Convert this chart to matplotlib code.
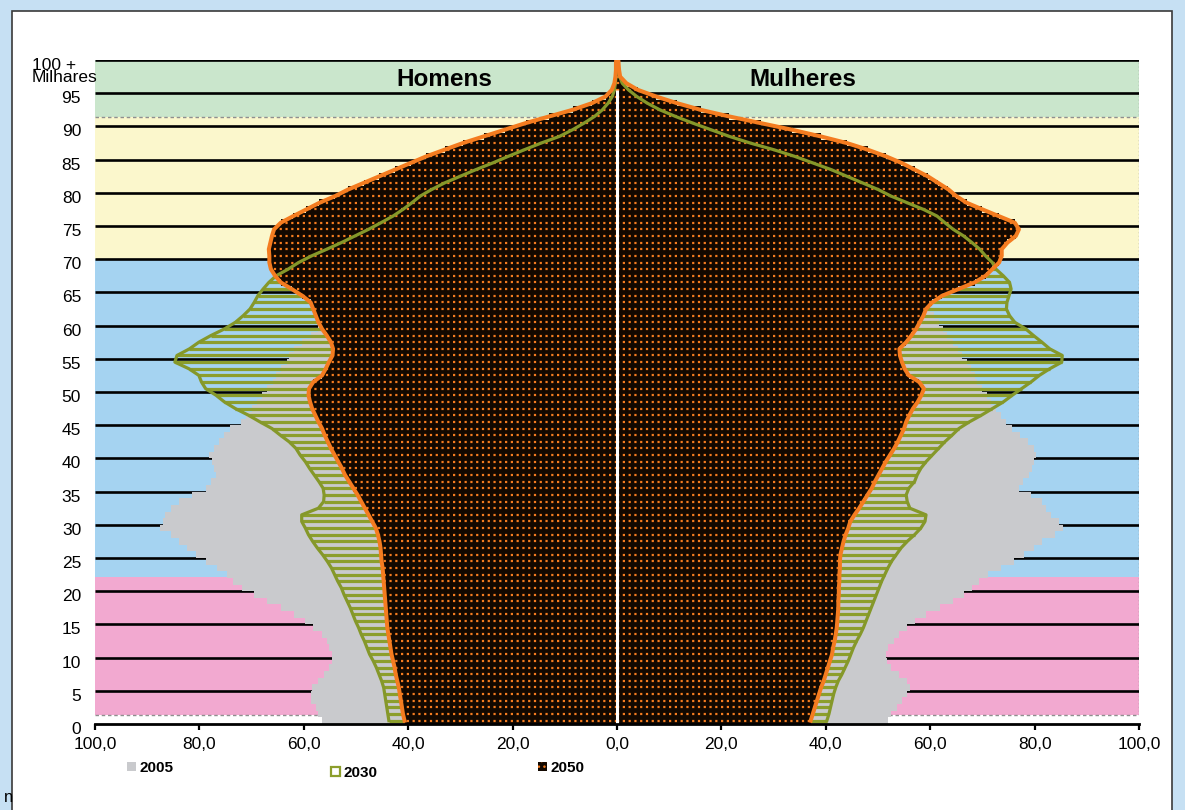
import matplotlib.pyplot as plt
import numpy as np
from matplotlib.legend import Legend
from matplotlib.patches import Patch, Rectangle
from matplotlib.transforms import ScaledTranslation

plt.rcParams['font.family'] = ['Liberation Sans', 'DejaVu Sans']

# single-year ages 0..100 (thousands of people)
AGES = list(range(0, 101))

MEN_2005 = [56.6, 57.2, 57.7, 58.7, 58.7, 58.4, 57.2, 56.1, 55.1, 54.6,
            54.6, 55.1, 55.6, 56.6, 58.2, 59.7, 61.8, 64.4, 67.0, 69.5,
            71.9, 73.6, 74.7, 76.7, 78.8, 80.6, 82.4, 83.9, 85.5, 87.5,
            87.0, 86.5, 85.5, 83.9, 81.4, 78.8, 77.8, 76.8, 77.2, 77.5,
            78.1, 77.2, 76.2, 75.2, 74.2, 72.1, 71.1, 70.0, 69.0, 68.0,
            67.0, 65.9, 65.4, 64.4, 63.3, 62.8, 61.8, 60.3, 58.7, 57.2,
            56.1, 55.6, 55.1, 54.6, 53.6, 52.5, 51.5, 50.5, 49.4, 48.4,
            47.4, 46.4, 45.3, 43.8, 42.2, 40.7, 39.1, 37.1, 35.0, 33.0,
            30.4, 27.8, 25.2, 22.7, 20.1, 17.5, 14.9, 12.4, 10.3, 8.2,
            6.7, 5.2, 3.9, 2.5, 1.4, 0.7, 0.4, 0.25, 0.15, 0.1, 0.05]
WOMEN_2005 = [52.0, 52.5, 53.6, 54.6, 55.6, 56.1, 55.6, 54.1, 52.5, 51.8,
              51.5, 52.0, 53.0, 54.1, 55.6, 57.0, 59.2, 61.8, 64.4, 66.4,
              68.0, 69.3, 71.1, 73.6, 76.0, 78.0, 79.8, 81.4, 83.9, 85.5,
              84.7, 83.2, 82.2, 81.4, 79.3, 77.0, 77.8, 79.0, 79.5, 79.9,
              80.3, 79.8, 78.8, 77.2, 75.7, 74.6, 73.6, 72.6, 71.6, 70.9,
              69.9, 69.0, 68.5, 67.8, 67.0, 66.1, 65.4, 64.4, 63.3, 62.5,
              61.7, 60.8, 59.9, 59.2, 58.7, 58.2, 57.7, 57.2, 56.6, 56.1,
              55.6, 54.6, 53.6, 52.5, 51.5, 50.0, 48.4, 46.4, 44.3, 42.2,
              40.2, 37.6, 35.0, 32.4, 29.9, 26.8, 23.7, 20.6, 17.5, 14.9,
              12.4, 9.8, 7.7, 5.7, 4.1, 2.8, 1.2, 0.5, 0.3, 0.2, 0.1]

MEN_2030 = [43.7, 43.9, 44.1, 44.3, 44.5, 44.7, 45.1, 45.6, 46.1, 46.7,
            47.4, 47.9, 48.4, 49.0, 49.5, 50.1, 50.6, 51.1, 51.7, 52.3,
            52.8, 53.5, 54.1, 54.7, 55.5, 56.4, 57.4, 58.3, 59.1, 59.7,
            60.4, 60.4, 57.2, 56.2, 56.1, 56.3, 57.1, 58.0, 58.9, 59.7,
            60.7, 61.5, 62.8, 64.5, 66.1, 68.4, 70.6, 73.1, 75.2, 76.8,
            78.8, 79.6, 80.1, 82.0, 84.7, 84.3, 81.9, 80.1, 77.8, 75.2,
            73.1, 71.6, 70.3, 69.5, 68.8, 67.8, 66.7, 65.3, 63.0, 61.0,
            58.5, 55.6, 52.8, 50.2, 47.6, 45.2, 42.9, 41.0, 39.3, 37.7,
            35.5, 33.0, 30.0, 27.0, 23.8, 20.8, 17.7, 14.5, 11.0, 8.5,
            6.3, 4.3, 2.8, 1.7, 0.9, 0.5, 0.3, 0.2, 0.1, 0.1, 0.1]
WOMEN_2030 = [40.2, 40.6, 40.9, 41.2, 41.5, 41.9, 42.4, 43.1, 43.7, 44.3,
              44.8, 45.3, 45.9, 46.6, 47.2, 47.7, 48.2, 48.7, 49.2, 49.7,
              50.2, 50.7, 51.3, 51.9, 52.6, 53.5, 54.4, 55.6, 57.0, 58.2,
              59.0, 59.2, 56.1, 55.6, 55.4, 55.9, 57.0, 57.5, 58.2, 59.2,
              60.4, 61.6, 62.8, 64.2, 65.5, 67.5, 69.8, 71.9, 74.0, 75.7,
              77.5, 79.3, 80.9, 82.9, 85.2, 85.3, 82.9, 81.4, 79.8, 78.3,
              76.2, 75.2, 74.6, 74.7, 75.1, 75.5, 75.2, 74.0, 72.6, 71.9,
              70.6, 69.5, 68.0, 66.4, 64.4, 62.8, 61.3, 58.7, 55.6, 52.5,
              50.0, 47.0, 44.0, 41.0, 37.5, 34.0, 30.0, 25.5, 21.5, 18.0,
              14.5, 11.2, 8.2, 5.8, 3.8, 2.2, 1.0, 0.5, 0.3, 0.2, 0.1]

MEN_2050 = [40.7, 41.0, 41.2, 41.4, 41.6, 41.8, 42.1, 42.4, 42.6, 42.9,
            43.2, 43.4, 43.6, 43.8, 44.0, 44.1, 44.2, 44.3, 44.4, 44.5,
            44.6, 44.7, 44.8, 44.9, 45.1, 45.2, 45.3, 45.5, 45.8, 46.2,
            46.9, 47.6, 48.3, 49.0, 49.7, 50.5, 51.3, 52.1, 52.7, 53.4,
            54.1, 54.8, 55.4, 56.0, 56.5, 57.2, 57.8, 58.4, 58.8, 59.1,
            59.0, 58.2, 56.5, 55.8, 55.2, 54.5, 54.4, 54.8, 55.6, 56.5,
            57.2, 57.7, 58.2, 58.7, 60.3, 62.3, 64.4, 65.5, 66.3, 66.6,
            66.6, 66.7, 66.4, 66.1, 65.7, 64.4, 62.0, 59.5, 57.0, 54.0,
            51.5, 48.5, 45.5, 42.5, 39.5, 36.5, 33.0, 29.5, 25.5, 21.5,
            17.5, 13.0, 8.5, 4.8, 2.2, 1.0, 0.5, 0.3, 0.2, 0.2, 0.1]
WOMEN_2050 = [37.1, 37.5, 37.9, 38.3, 38.7, 39.1, 39.6, 40.0, 40.4, 40.8,
              41.2, 41.4, 41.7, 41.9, 42.1, 42.2, 42.3, 42.4, 42.4, 42.5,
              42.5, 42.6, 42.6, 42.7, 42.7, 42.8, 43.1, 43.4, 43.8, 44.3,
              44.7, 45.5, 46.4, 47.2, 48.0, 48.8, 49.4, 50.1, 50.8, 51.5,
              52.3, 53.1, 53.8, 54.4, 55.0, 55.4, 56.0, 56.7, 57.6, 58.3,
              58.8, 57.9, 55.9, 55.1, 54.6, 54.2, 54.1, 55.4, 56.4, 57.3,
              58.0, 58.7, 59.2, 60.4, 62.3, 65.4, 68.5, 70.6, 71.9, 73.2,
              73.7, 73.7, 74.8, 76.4, 77.0, 76.2, 73.1, 70.0, 67.0, 65.0,
              63.5, 61.5, 59.5, 57.0, 54.5, 51.5, 48.0, 44.0, 39.0, 33.5,
              27.5, 21.5, 16.0, 11.5, 7.5, 4.0, 1.8, 0.6, 0.4, 0.3, 0.2]

# coloured age bands behind the pyramid
BAND_EDGES = [1.4, 22.1, 70.0, 91.4, 100.0]
BAND_COLORS = ['#f2a9d0', '#a5d3f1', '#fbf7cc', '#cae6cc']

YTICKS = list(range(0, 101, 5))
YTICK_LABELS = [str(t) for t in range(0, 100, 5)] + ['100 + ']
XTICKS = list(range(-100, 101, 20))
XTICK_LABELS = ['100,0', '80,0', '60,0', '40,0', '20,0', '0,0',
                '20,0', '40,0', '60,0', '80,0', '100,0']

GRAY = '#c9cacd'
OLIVE = '#8c9e2c'
OLIVE_LINE = '#85982a'
BLACK = '#120800'
ORANGE = '#f47c20'

W, H = 1185, 810


def main() -> None:
    fig = plt.figure(figsize=(W / 100, H / 100), dpi=100, facecolor='#c6e0f3')
    fig.add_artist(Rectangle((12 / W, -0.02), 1160 / W, (H - 11) / H + 0.02,
                             transform=fig.transFigure, facecolor='white',
                             edgecolor='#3a3a3a', lw=1.2, zorder=-1))
    ax = fig.add_axes([95 / W, (H - 724) / H, (1139 - 95) / W, (724 - 60) / H])
    ax.set_facecolor('none')

    ages = np.array(AGES)
    mid = ages + 0.5
    m05, w05 = np.array(MEN_2005), np.array(WOMEN_2005)
    m30, w30 = np.array(MEN_2030), np.array(WOMEN_2030)
    m50, w50 = np.array(MEN_2050), np.array(WOMEN_2050)

    for lo, hi, c in zip(BAND_EDGES[:-1], BAND_EDGES[1:], BAND_COLORS):
        ax.axhspan(lo, hi, color=c, lw=0, zorder=0)
    for y in (BAND_EDGES[0], BAND_EDGES[3]):
        ax.axhline(y, color='#8f8f8f', lw=1.0, ls=(0, (2.5, 2)), zorder=0.3)
    ax.vlines(100, BAND_EDGES[0], 100, color='#8a8a8a', lw=1.0, ls=':', zorder=0.3)
    ax.hlines(YTICKS[1:], -100, 100, color='black', lw=1.9, zorder=0.5)

    # 2005: solid grey bars
    ax.barh(ages, -m05, height=1, align='edge', color=GRAY, lw=0, zorder=1)
    ax.barh(ages, w05, height=1, align='edge', color=GRAY, lw=0, zorder=1)
    # 2030: striped (one olive stripe per age)
    ax.hlines(mid, 0, -m30, color=OLIVE, lw=2.3, zorder=2)
    ax.hlines(mid, 0, w30, color=OLIVE, lw=2.3, zorder=2)
    # 2050: black bars with rows of orange dots
    ax.barh(ages, -m50, height=1, align='edge', color=BLACK, lw=0, zorder=3)
    ax.barh(ages, w50, height=1, align='edge', color=BLACK, lw=0, zorder=3)
    ax.hlines(mid, 0, -m50, color=ORANGE, lw=1.6, linestyles=[(0, (1, 1.6))], zorder=4)
    ax.hlines(mid, 0, w50, color=ORANGE, lw=1.6, linestyles=[(0, (1, 1.6))], zorder=4)
    ax.vlines(0, 0, 95.5, color='white', lw=2.2, zorder=5)

    ax.plot(-m30, mid, color=OLIVE_LINE, lw=2.3, zorder=6)
    ax.plot(w30, mid, color=OLIVE_LINE, lw=2.3, zorder=6)
    ax.plot(-m50, mid, color=ORANGE, lw=2.9, zorder=7, solid_joinstyle='round')
    ax.plot(w50, mid, color=ORANGE, lw=2.9, zorder=7, solid_joinstyle='round')

    ax.set_xlim(-100, 100)
    ax.set_ylim(0, 100)
    for side in ('left', 'right', 'top'):
        ax.spines[side].set_visible(False)
    ax.spines['bottom'].set_linewidth(2)
    ax.spines['bottom'].set_zorder(8)
    ax.set_xticks(XTICKS, XTICK_LABELS)
    ax.set_yticks(YTICKS, YTICK_LABELS)
    ax.tick_params(axis='x', direction='out', length=4.5, width=1.6, pad=5,
                   labelsize=12.5, colors='black')
    ax.tick_params(axis='y', length=0, pad=10, labelsize=12.5)
    shift = ScaledTranslation(0, -0.04, fig.dpi_scale_trans)
    for lbl in ax.get_yticklabels():
        lbl.set_transform(lbl.get_transform() + shift)

    fig.text(97 / W, 1 - 77 / H, 'Milhares', ha='right', va='center', fontsize=12.5)
    fig.text(4 / W, 1 - 797 / H, 'n', ha='left', va='center', fontsize=12)
    ax.text(-33.1, 97, 'Homens', ha='center', va='center', fontsize=17.5, fontweight='bold')
    ax.text(35.6, 97, 'Mulheres', ha='center', va='center', fontsize=17.5, fontweight='bold')

    entries = [
        (Patch(facecolor=GRAY, lw=0), '2005', (127 / W, 1 - 768 / H)),
        (Patch(facecolor='white', edgecolor=OLIVE, lw=1.6), '2030', (331 / W, 1 - 773 / H)),
        (Patch(facecolor=BLACK, edgecolor=ORANGE, hatch='...', lw=0), '2050', (538 / W, 1 - 768 / H)),
    ]
    for handle, label, anchor in entries:
        leg = Legend(ax, [handle], [label], loc='center left', bbox_to_anchor=anchor,
                     bbox_transform=fig.transFigure, frameon=False,
                     handlelength=0.6, handleheight=0.6, handletextpad=0.25,
                     borderpad=0, borderaxespad=0,
                     prop={'size': 11, 'weight': 'bold'})
        ax.add_artist(leg)

    fig.savefig('out.png', dpi=100, facecolor=fig.get_facecolor())


if __name__ == '__main__':
    main()
